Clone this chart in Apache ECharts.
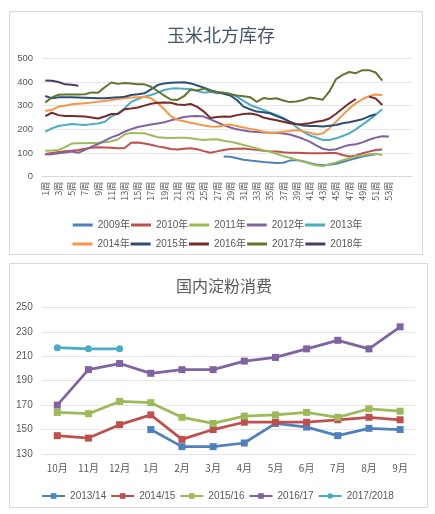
<!DOCTYPE html>
<html>
<head>
<meta charset="utf-8">
<script src="https://cdn.jsdelivr.net/npm/echarts@6/dist/echarts.min.js"></script>
<style>
html,body{margin:0;padding:0;background:#fff;}
#c{width:435px;height:514px;}
</style>
</head>
<body>
<div id="c"></div>
<script>
// ---------- Top chart: 玉米北方库存 ----------
const weekLabels = [];
for (let i = 1; i <= 53; i++) weekLabels.push(i + '周');
weekLabels.push('', '', '');

const topNames = ['2009年','2010年','2011年','2012年','2013年','2014年','2015年','2016年','2017年','2018年'];
const topColors = ['#4f81bd','#c0504d','#9bbb59','#8064a2','#4bacc6','#f79646','#2c4d75','#772c2a','#5f7530','#4d3b62'];

const s2009 = [null,null,null,null,null,null,null,null,null,null,null,null,null,null,null,null,null,null,null,null,null,null,null,null,null,null,null,
  85,84,78,72,68,65,62,60,58,59,68,70,65,58,52,48,50,55,62,70,78,85,90,95,null,null];
const s2010 = [96,100,104,107,110,113,118,122,124,123,122,120,121,143,144,140,135,128,123,117,115,118,120,116,108,101,107,113,117,118,119,116,114,110,107,106,103,101,101,100,99,99,99,100,100,92,85,90,99,106,113,115,null];
const s2011 = [110,111,113,125,140,141,141,142,143,145,150,158,178,185,184,183,175,167,165,163,165,165,162,158,155,157,158,152,148,141,134,127,119,112,106,97,87,80,72,64,56,48,44,53,60,70,78,86,90,95,97,92,null];
const s2012 = [94,95,99,102,106,101,113,127,138,152,166,176,190,201,210,215,220,225,230,238,245,252,255,256,254,242,230,218,208,200,195,191,189,187,186,186,182,178,170,160,148,132,118,113,116,126,134,137,145,156,165,171,170];
const s2013 = [190,204,214,218,223,220,218,222,225,232,254,268,289,316,328,338,345,355,366,372,373,371,369,362,355,359,352,355,350,338,320,303,292,282,270,261,248,232,210,190,175,165,155,155,162,172,183,200,220,240,262,285,null];
const s2014 = [279,282,296,300,306,308,310,313,317,320,324,328,331,334,336,338,331,312,285,256,240,234,228,222,216,212,211,216,220,214,208,202,197,190,186,187,190,193,197,192,186,178,182,205,232,260,288,310,327,340,347,344,null];
const s2015 = [341,331,335,336,335,334,333,332,331,331,333,335,338,345,348,352,369,387,394,397,398,399,394,385,376,365,357,350,343,324,296,285,275,272,268,256,245,232,222,216,214,214,212,215,218,226,230,236,243,255,264,null,null];
const s2016 = [256,270,260,256,256,255,254,250,246,254,265,265,285,288,292,300,308,312,313,312,305,303,307,295,275,248,252,254,253,260,265,267,262,250,244,238,232,226,222,223,226,232,236,246,266,288,310,328,null,338,330,303,null];
const s2017 = [314,335,346,347,347,347,348,356,355,378,398,392,396,394,390,390,380,362,342,326,324,340,368,364,372,362,358,355,348,343,340,336,316,332,328,331,322,315,318,324,334,330,325,360,412,430,442,437,450,450,440,406,null];
const s2018 = [406,405,400,390,388,384];
const topData = [s2009,s2010,s2011,s2012,s2013,s2014,s2015,s2016,s2017,s2018];
const topTicks = [0,100,200,300,400,500];

// ---------- Bottom chart: 国内淀粉消费 ----------
const monthLabels = ['10月','11月','12月','1月','2月','3月','4月','5月','6月','7月','8月','9月'];
const botNames = ['2013/14','2014/15','2015/16','2016/17','2017/2018'];
const botColors = ['#4f81bd','#c0504d','#9bbb59','#8064a2','#4bacc6'];
const c1314 = [null,null,null,150,136,136,139,155,152,145,151,150];
const c1415 = [145,143,154,162,142,150,156,156,156,158,160,158];
const c1516 = [164,163,173,172,160,155,161,162,164,160,167,165];
const c1617 = [170,199,204,196,199,199,206,209,216,223,216,234];
const c1718 = [217,216,216];
const botData = [c1314,c1415,c1516,c1617,c1718];
const botTicks = [130,150,170,190,210,230,250];

const chart = echarts.init(document.getElementById('c'), null, {renderer:'canvas'});
const FONT = '"Liberation Sans", "Noto Sans CJK SC", sans-serif';
const CJK = '"Noto Sans CJK SC", sans-serif';

const series = [];
topData.forEach((d, i) => {
  series.push({
    name: topNames[i], type: 'line', xAxisIndex: 0, yAxisIndex: 0,
    data: d, showSymbol: false, symbol: 'none', connectNulls: false,
    lineStyle: {width: 2, color: topColors[i]}, itemStyle: {color: topColors[i]},
    emphasis: {disabled: true}, animation: false
  });
});
botData.forEach((d, i) => {
  const circ = i === 4;
  series.push({
    name: botNames[i], type: 'line', xAxisIndex: 1, yAxisIndex: 1,
    data: d, symbol: circ ? 'circle' : 'rect', symbolSize: 7, showAllSymbol: true,
    lineStyle: {width: 2.75, color: botColors[i]}, itemStyle: {color: botColors[i], borderWidth: 0},
    emphasis: {disabled: true}, animation: false
  });
});

const legendText = {fontSize: 10, color: '#595959', fontFamily: FONT, lineHeight: 12};

chart.setOption({
  animation: false,
  backgroundColor: '#fff',
  graphic: [
    {type: 'rect', shape: {x: 9.5, y: 11.5, width: 413, height: 243}, style: {fill: 'none', stroke: '#d9d9d9', lineWidth: 1}, silent: true},
    {type: 'rect', shape: {x: 9.5, y: 263.5, width: 418, height: 244}, style: {fill: 'none', stroke: '#d9d9d9', lineWidth: 1}, silent: true}
  ],
  title: [
    {text: '玉米北方库存', left: 216, top: 21, textAlign: 'center',
      textStyle: {fontSize: 18, fontWeight: 'normal', color: '#44546a', fontFamily: CJK}},
    {text: '国内淀粉消费', left: 219, top: 273, textAlign: 'center',
      textStyle: {fontSize: 16, fontWeight: 'normal', color: '#595959', fontFamily: CJK}}
  ],
  legend: [
    {data: topNames.slice(0,5), top: 214, left: 'center', itemWidth: 20, itemHeight: 3, itemGap: 1,
      icon: 'rect', textStyle: legendText, selectedMode: false},
    {data: topNames.slice(5), top: 233, left: 'center', itemWidth: 20, itemHeight: 3, itemGap: 1,
      icon: 'rect', textStyle: legendText, selectedMode: false},
    {data: botNames, top: 485, left: 'center', itemWidth: 23, itemHeight: 7, itemGap: 4,
      textStyle: legendText, selectedMode: false}
  ],
  grid: [
    {left: 42, top: 58.3, width: 370, height: 118.4, containLabel: false},
    {left: 41.7, top: 307.3, width: 374, height: 146.7, containLabel: false}
  ],
  xAxis: [
    {type: 'category', gridIndex: 0, data: weekLabels, boundaryGap: true,
      axisLine: {lineStyle: {color: '#d9d9d9'}}, axisTick: {show: false},
      axisLabel: {interval: 1, rotate: 90, fontSize: 9, color: '#595959', fontFamily: CJK, margin: 5}},
    {type: 'category', gridIndex: 1, data: monthLabels, boundaryGap: true,
      axisLine: {show: false}, axisTick: {show: false},
      axisLabel: {fontSize: 10, color: '#595959', fontFamily: CJK, margin: 9}}
  ],
  yAxis: [
    {type: 'value', gridIndex: 0, min: topTicks[0], max: topTicks[topTicks.length-1], interval: 100,
      axisLine: {show: false}, axisTick: {show: false},
      splitLine: {lineStyle: {color: '#e6e6e6'}},
      axisLabel: {fontSize: 9.5, color: '#595959', fontFamily: FONT, margin: 9}},
    {type: 'value', gridIndex: 1, min: botTicks[0], max: botTicks[botTicks.length-1], interval: 20,
      axisLine: {show: false}, axisTick: {show: false},
      splitLine: {lineStyle: {color: '#e6e6e6'}},
      axisLabel: {fontSize: 10, color: '#595959', fontFamily: FONT, margin: 9}}
  ],
  series: series
});
</script>
</body>
</html>
